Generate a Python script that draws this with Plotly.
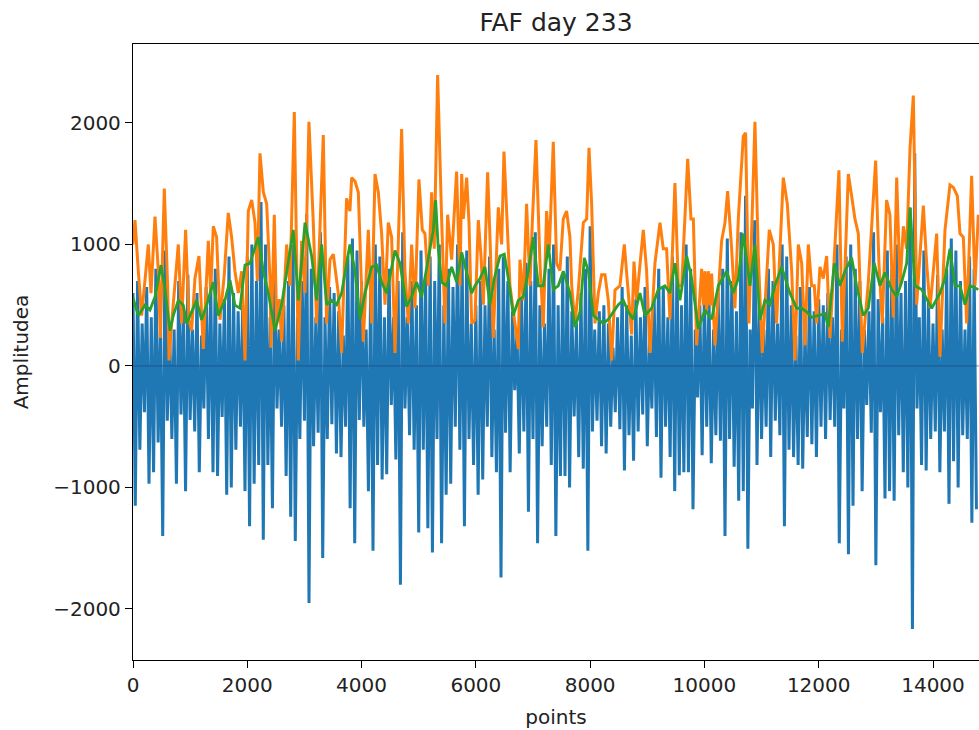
import numpy as np
import plotly.graph_objects as go

# ---------------- data ----------------
SAMPLE_STEP = 40  # spacing (in points) between successive blue extrema

# blue signal: alternating positive tops and negative troughs
blue_pos = [600, 700, 350, 650, 400, 800, 300, 950, 350, 300, 700, 450, 750, 300, 600, 250,
            650, 700, 800, 350, 550, 900, 600, 450, 500, 900, 1000, 700, 1350, 1000, 400, 850,
            300, 500, 700, 1000, 400, 700, 1250, 800, 400, 1100, 400, 650, 600, 450, 250, 900,
            1050, 950, 700, 300, 700, 1000, 900, 400, 800, 400, 700, 1100, 400, 700, 500, 950,
            750, 900, 700, 1000, 500, 800, 650, 1000, 900, 950, 350, 500, 700, 500, 900, 300,
            800, 900, 700, 450, 300, 550, 850, 700, 1100, 500, 350, 800, 1000, 500, 750, 900,
            450, 350, 600, 800, 1150, 300, 450, 500, 350, 150, 400, 650, 500, 250, 550, 400,
            650, 200, 550, 800, 650, 400, 900, 850, 500, 1000, 800, 300, 500, 600, 550, 300,
            600, 800, 1050, 700, 450, 1100, 1400, 300, 1200, 600, 300, 800, 700, 350, 1000, 900,
            500, 250, 650, 300, 650, 450, 550, 500, 600, 400, 1000, 300, 900, 1000, 800, 700,
            300, 450, 1100, 550, 400, 950, 800, 1000, 600, 700, 1300, 1750, 400, 950, 550, 350,
            750, 300, 800, 1050, 950, 700, 300, 900, 800]
blue_neg = [-1150, -690, -380, -970, -875, -630, -1400, -450, -600, -970, -400, -1030, -445, -540,
            -875, -350, -600, -875, -905, -420, -1060, -1000, -690, -500, -1030, -1320, -970, -815,
            -1430, -815, -1170, -350, -500, -905, -1240, -1440, -600, -450, -1950, -660, -550, -1580,
            -600, -480, -720, -750, -500, -1170, -1460, -445, -500, -1030, -1520, -815, -935, -890,
            -320, -770, -1800, -350, -570, -690, -1370, -690, -1335, -1535, -600, -1460, -1060, -970,
            -500, -690, -1320, -600, -815, -1060, -935, -500, -750, -875, -1740, -550, -875, -200,
            -720, -540, -1200, -600, -1460, -660, -500, -815, -1400, -905, -905, -1000, -415, -750,
            -845, -1520, -540, -450, -660, -720, -500, -380, -520, -860, -570, -780, -540, -400,
            -660, -350, -585, -920, -500, -750, -1030, -900, -875, -875, -1180, -260, -735, -500,
            -800, -570, -615, -1400, -600, -830, -1110, -1030, -1505, -350, -815, -600, -500, -750,
            -450, -570, -1320, -690, -750, -815, -845, -585, -645, -750, -500, -600, -445, -500,
            -1460, -350, -1550, -1150, -600, -1030, -320, -550, -1640, -380, -1090, -1030, -1110, -570,
            -875, -1000, -2165, -350, -815, -860, -600, -540, -875, -540, -1135, -785, -1000, -570,
            -600, -1290, -1180]

# orange envelope: (point index, amplitude)
orange_x = [0, 35, 93, 152, 268, 315, 385, 443, 478, 548, 606, 630, 676, 793, 851, 921, 979, 1026,
            1084, 1154, 1230, 1318, 1360, 1405, 1463, 1522, 1597, 1667, 1726, 1784, 1842, 1902, 1960,
            2018, 2077, 2135, 2176, 2222, 2281, 2339, 2397, 2415, 2473, 2514, 2560, 2601, 2689, 2747,
            2823, 2893, 2951, 3010, 3079, 3155, 3213, 3330, 3388, 3447, 3505, 3592, 3651, 3738, 3796,
            3827, 3885, 3943, 4031, 4118, 4176, 4235, 4293, 4351, 4410, 4468, 4526, 4585, 4701, 4759,
            4818, 4876, 4934, 5004, 5063, 5109, 5168, 5226, 5272, 5331, 5401, 5459, 5506, 5576, 5663,
            5722, 5752, 5781, 5839, 5880, 5927, 5985, 6043, 6090, 6131, 6206, 6247, 6305, 6393, 6451,
            6492, 6539, 6597, 6684, 6743, 6772, 6830, 6888, 6947, 6988, 7052, 7122, 7180, 7238, 7285,
            7355, 7413, 7471, 7530, 7588, 7646, 7677, 7735, 7793, 7881, 7939, 7980, 8026, 8085, 8143,
            8201, 8260, 8318, 8376, 8435, 8522, 8598, 8668, 8726, 8767, 8813, 8930, 8988, 9047, 9134,
            9222, 9280, 9338, 9396, 9484, 9543, 9602, 9707, 9765, 9806, 9864, 9951, 9980, 10010, 10040,
            10068, 10100, 10126, 10185, 10301, 10360, 10406, 10476, 10534, 10593, 10651, 10680, 10721,
            10779, 10884, 10943, 11012, 11135, 11205, 11263, 11380, 11450, 11527, 11585, 11643, 11702,
            11760, 11818, 11876, 11923, 11964, 12022, 12080, 12139, 12197, 12285, 12354, 12413, 12518,
            12576, 12634, 12693, 12763, 12868, 12996, 13054, 13112, 13188, 13246, 13305, 13365, 13423,
            13481, 13539, 13598, 13656, 13714, 13831, 13889, 13948, 14064, 14122, 14210, 14297, 14356,
            14426, 14472, 14531, 14589, 14676, 14735, 14793]
orange_y = [1000, 1200, 780, 415, 1000, 600, 1230, 780, 230, 1460, 660, 45, 350, 1000, 350, 1120, 380,
            290, 720, 905, 140, 1030, 600, 1150, 1060, 380, 750, 1260, 1060, 780, 600, 780, 45,
            1275, 1366, 1180, 700, 1750, 1430, 1335, 720, 150, 1245, 350, 550, 200, 1000, 660,
            2090, 45, 1030, 600, 2010, 1180, 350, 1900, 350, 875, 920, 600, 107, 1380, 1275,
            1550, 1520, 1430, 200, 1120, 350, 1580, 1430, 1090, 505, 1180, 1060, 107, 1950, 780,
            350, 1000, 475, 1535, 1120, 1090, 660, 1430, 965, 2395, 1210, 350, 1245, 875, 1600,
            660, 1580, 1210, 1550, 1180, 350, 380, 1200, 905, 505, 1595, 1060, 230, 1305, 1000,
            1765, 1245, 660, 350, 140, 875, 540, 1335, 660, 1180, 1860, 845, 320, 1275, 950,
            1845, 845, 785, 1210, 1275, 1060, 660, 350, 625, 1180, 1210, 1795, 1335, 350, 600,
            750, 750, 540, 45, 625, 660, 1000, 600, 260, 860, 540, 1120, 785, 107, 845,
            1180, 965, 965, 385, 1505, 660, 660, 1705, 1210, 1210, 170, 800, 500, 780, 450,
            780, 500, 760, 170, 1030, 1180, 1440, 965, 475, 1210, 1610, 1890, 1920,
            350, 2010, 905, 107, 1120, 1000, 350, 1550, 1335, 780, 45, 1000, 845,
            170, 1000, 660, 660, 350, 815, 720, 905, 230, 1000, 1610, 200, 1580,
            1400, 1210, 1090, 107, 690, 1690, 845, 350, 1365, 1245, 400, 1550, 660,
            1150, 965, 1795, 2225, 505, 1320, 845, 475, 1090, 77, 1120, 1490, 1470,
            1400, 1090, 1060, 350, 1565, 660, 1245]

# green smoothed envelope: (point index, amplitude)
green_x = [0, 35, 93, 210, 297, 385, 490, 560, 647, 705, 793, 880, 939, 1026, 1113, 1201, 1288, 1405,
           1492, 1609, 1697, 1784, 1872, 1960, 2047, 2193, 2281, 2368, 2485, 2601, 2689, 2805, 2893,
           3010, 3126, 3213, 3301, 3388, 3476, 3563, 3651, 3796, 3885, 3972, 4060, 4176, 4264, 4351,
           4439, 4526, 4585, 4672, 4789, 4876, 4963, 5051, 5168, 5255, 5296, 5342, 5401, 5488, 5576,
           5663, 5752, 5839, 5927, 5985, 6072, 6160, 6247, 6323, 6422, 6498, 6568, 6655, 6743, 6830,
           6918, 7005, 7093, 7180, 7267, 7355, 7442, 7530, 7646, 7735, 7822, 7898, 7968, 8056, 8143,
           8230, 8318, 8405, 8493, 8580, 8668, 8755, 8872, 8959, 9076, 9192, 9309, 9396, 9484, 9572,
           9689, 9777, 9893, 10010, 10126, 10243, 10389, 10505, 10593, 10680, 10797, 10884, 10972,
           11059, 11147, 11234, 11351, 11496, 11614, 11702, 11789, 11876, 11993, 12110, 12168, 12273,
           12372, 12459, 12576, 12663, 12780, 12868, 12972, 13072, 13159, 13276, 13365, 13452, 13539,
           13598, 13685, 13802, 13977, 14122, 14210, 14297, 14385, 14472, 14560, 14647, 14793]
green_y = [560, 500, 415, 500, 460, 570, 830, 630, 290, 415, 540, 500, 350, 445, 540, 380, 500, 690,
           415, 540, 705, 500, 475, 830, 845, 1060, 780, 600, 290, 505, 780, 1120, 540,
           1180, 905, 540, 1000, 505, 540, 505, 600, 1000, 780, 385, 600, 815, 830, 690,
           600, 815, 950, 845, 490, 570, 690, 570, 875, 1120, 1365, 965, 690, 660, 815,
           690, 935, 780, 600, 660, 720, 815, 505, 720, 905, 920, 720, 415, 540, 570,
           780, 1060, 660, 660, 1000, 630, 660, 780, 600, 320, 445, 890, 780, 415, 385,
           350, 385, 445, 505, 540, 445, 385, 600, 415, 475, 630, 660, 600, 845, 540,
           905, 720, 305, 460, 385, 660, 780, 600, 720, 1090, 660, 1000, 380,
           540, 505, 660, 815, 600, 475, 475, 445, 400, 415, 430, 320, 845,
           660, 780, 890, 660, 415, 475, 845, 660, 770, 630, 570, 690, 845,
           1305, 660, 630, 475, 600, 720, 965, 660, 660, 505, 660, 630]

x_ticks = [0, 2000, 4000, 6000, 8000, 10000, 12000, 14000]
y_ticks = [-2000, -1000, 0, 1000, 2000]

# ---------------- build ----------------
blue_y = np.ravel(np.column_stack([blue_pos, blue_neg]))
blue_x = np.arange(len(blue_y)) * SAMPLE_STEP

BLUE, ORANGE, GREEN = "#1f77b4", "#ff7f0e", "#2ca02c"

fig = go.Figure()
fig.add_trace(go.Scatter(x=blue_x, y=blue_y, mode="lines",
                         line=dict(color=BLUE, width=3), hoverinfo="skip"))
fig.add_trace(go.Scatter(x=orange_x, y=orange_y, mode="lines",
                         line=dict(color=ORANGE, width=3), hoverinfo="skip"))
fig.add_trace(go.Scatter(x=green_x, y=green_y, mode="lines",
                         line=dict(color=GREEN, width=2.8), hoverinfo="skip"))

fig.add_hline(y=0, line=dict(color="rgba(20,60,110,0.45)", width=1.2))

FONT = "DejaVu Sans"
W, H = 979, 730
fig.update_layout(
    width=W, height=H,
    margin=dict(l=133, r=0, t=44, b=70),
    paper_bgcolor="white", plot_bgcolor="white",
    showlegend=False,
    font=dict(family=FONT, color="black", size=20),
    title=dict(text="FAF day 233", x=0.5, xref="paper", xanchor="center",
               y=1 - 22 / H, yref="container", yanchor="middle",
               font=dict(family=FONT, size=25, color="#222")),
)
fig.update_xaxes(range=[0, 14805], tickvals=x_ticks, ticktext=[str(v) for v in x_ticks],
                 ticks="outside", ticklen=7, tickwidth=1.3, tickcolor="black",
                 showline=True, linecolor="black", linewidth=1.3, mirror=True,
                 showgrid=False, zeroline=False,
                 tickfont=dict(size=20, family=FONT, color="#222"),
                 title=dict(text="points", font=dict(size=20, family=FONT, color="#222"), standoff=13))
fig.update_yaxes(range=[-2420, 2650], tickvals=y_ticks,
                 ticks="outside", ticklen=7, tickwidth=1.3, tickcolor="black",
                 showline=True, linecolor="black", linewidth=1.3, mirror=False,
                 showgrid=False, zeroline=False,
                 tickfont=dict(size=20, family=FONT, color="#222"),
                 title=dict(text="Amplitudea", font=dict(size=20, family=FONT, color="#222"), standoff=19))

# remove the default page margin so the 979x730 figure fills the window exactly
fig.write_html("out.html", config={"displayModeBar": False},
               post_script="document.body.style.margin='0';document.body.style.overflow='hidden';")
